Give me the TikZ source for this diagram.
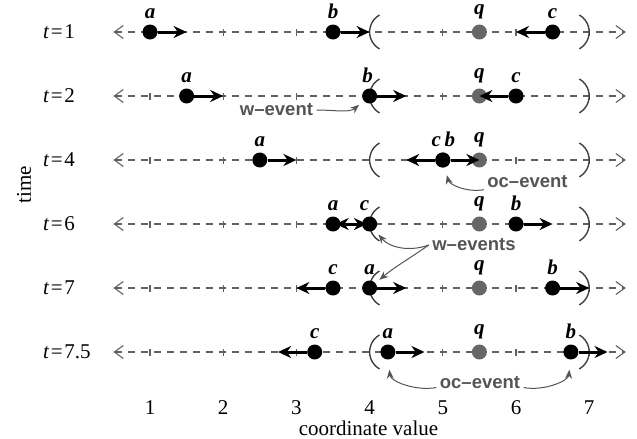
\documentclass[tikz,border=0pt]{standalone}
\usepackage{fontspec}
\setmainfont{Liberation Serif}
\newfontfamily\evfont{Liberation Sans}[Ligatures=TeX]
\usetikzlibrary{arrows.meta,positioning}
\definecolor{axisgray}{gray}{0.38}
\definecolor{qgray}{gray}{0.4}
\definecolor{evgray}{gray}{0.33}
\definecolor{pargray}{gray}{0.25}
\tikzset{
  mvaxis/.style={line width=1.1pt, draw=axisgray, dash pattern=on 7pt off 6pt,
    {Straight Barb[length=9pt,width=13pt]}-{Straight Barb[length=9pt,width=13pt]}},
  mvtick/.style={line width=1.1pt, draw=axisgray},
  mvparen/.style={line width=1.4pt, draw=pargray},
  mvpt/.style={circle, fill=black, inner sep=0pt, minimum size=15pt},
  mvquery/.style={circle, fill=qgray, inner sep=0pt, minimum size=15pt},
  mvvel/.style={line width=3pt, draw=black, -{Stealth[length=13pt,width=12pt]}},
  mvname/.style={inner sep=0pt, font=\fontsize{21}{25}\selectfont\bfseries\itshape},
  mvrow/.style={anchor=west, inner sep=0pt, font=\fontsize{21}{25}\selectfont},
  mvtext/.style={font=\fontsize{21}{25}\selectfont},
  mvevent/.style={text=evgray, font=\fontsize{18.5}{22}\evfont\bfseries},
  mvevarrow/.style={line width=1pt, draw=evgray, -{Stealth[length=9pt,width=7pt]}},
}
\begin{document}
\begin{tikzpicture}[x=73.2pt,y=64pt]
\useasboundingbox (-1.0492,0.5) rectangle (7.653,-6.359);

% axes with ticks and the brackets round q
\foreach \y in {0,-1,-2,-3,-4,-5} {
  \draw[mvaxis] (0.5,\y) -- (7.5,\y);
  \foreach \x in {1,...,7}
    \draw[mvtick] (\x,\y) ++(0,-3.5pt) -- ++(0,7pt);
  \draw[mvparen] (4,\y) ++(9.8pt,17pt) arc[start angle=120,end angle=240,radius=19.6pt];
  \draw[mvparen] (7,\y) ++(-9.8pt,17pt) arc[start angle=60,end angle=-60,radius=19.6pt];
}

% row labels
\node[mvrow] (t1) at (-0.462,0) {\textit{t}\kern1.5pt=\kern1.5pt1};
\node[mvrow] (t2) at (-0.462,-1) {\textit{t}\kern1.5pt=\kern1.5pt2};
\node[mvrow] (t4) at (-0.462,-2) {\textit{t}\kern1.5pt=\kern1.5pt4};
\node[mvrow] (t6) at (-0.462,-3) {\textit{t}\kern1.5pt=\kern1.5pt6};
\node[mvrow] (t7) at (-0.462,-4) {\textit{t}\kern1.5pt=\kern1.5pt7};
\node[mvrow] (t75) at (-0.462,-5) {\textit{t}\kern1.5pt=\kern1.5pt7.5};

% query points
\node[mvquery] (q1) at (5.5,0) {};
\node[mvquery] (q2) at (5.5,-1) {};
\node[mvquery] (q4) at (5.5,-2) {};
\node[mvquery] (q6) at (5.5,-3) {};
\node[mvquery] (q7) at (5.5,-4) {};
\node[mvquery] (q75) at (5.5,-5) {};

% moving points
\node[mvpt] (a1) at (1,0) {};
\node[mvpt] (b1) at (3.5,0) {};
\node[mvpt] (c1) at (6.5,0) {};
\node[mvpt] (a2) at (1.5,-1) {};
\node[mvpt] (b2) at (4,-1) {};
\node[mvpt] (c2) at (6,-1) {};
\node[mvpt] (a4) at (2.5,-2) {};
\node[mvpt] (b4) at (5,-2) {};
\node[mvpt] (c4) at (5,-2) {};
\node[mvpt] (a6) at (3.5,-3) {};
\node[mvpt] (c6) at (4,-3) {};
\node[mvpt] (b6) at (6,-3) {};
\node[mvpt] (c7) at (3.5,-4) {};
\node[mvpt] (a7) at (4,-4) {};
\node[mvpt] (b7) at (6.5,-4) {};
\node[mvpt] (c75) at (3.25,-5) {};
\node[mvpt] (a75) at (4.25,-5) {};
\node[mvpt] (b75) at (6.75,-5) {};

% velocities
\coordinate (a1v) at (1.5,0);
\coordinate (b1v) at (4,0);
\coordinate (c1v) at (6,0);
\coordinate (a2v) at (2,-1);
\coordinate (b2v) at (4.5,-1);
\coordinate (c2v) at (5.5,-1);
\coordinate (a4v) at (3,-2);
\coordinate (b4v) at (5.5,-2);
\coordinate (c4v) at (4.5,-2);
\coordinate (b6v) at (6.5,-3);
\coordinate (c7v) at (3,-4);
\coordinate (a7v) at (4.5,-4);
\coordinate (b7v) at (7,-4);
\coordinate (c75v) at (2.75,-5);
\coordinate (a75v) at (4.75,-5);
\coordinate (b75v) at (7.25,-5);
\draw[mvvel] (a1) -- (a1v);
\draw[mvvel] (b1) -- (b1v);
\draw[mvvel] (c1) -- (c1v);
\draw[mvvel] (a2) -- (a2v);
\draw[mvvel] (b2) -- (b2v);
\draw[mvvel] (c2) -- (c2v);
\draw[mvvel] (a4) -- (a4v);
\draw[mvvel] (b4) -- (b4v);
\draw[mvvel] (c4) -- (c4v);
\draw[mvvel, shorten >=-5pt] (a6) -- (c6);
\draw[mvvel, shorten >=-5pt] (c6) -- (a6);
\draw[mvvel] (b6) -- (b6v);
\draw[mvvel] (c7) -- (c7v);
\draw[mvvel] (a7) -- (a7v);
\draw[mvvel] (b7) -- (b7v);
\draw[mvvel] (c75) -- (c75v);
\draw[mvvel] (a75) -- (a75v);
\draw[mvvel] (b75) -- (b75v);

% point names
\node[above=5pt of a1, mvname] (la1) {a};
\node[above=5pt of b1, mvname] (lb1) {b};
\node[above=5pt of c1, mvname] (lc1) {c};
\node[above=5pt of q1, mvname] (lq1) {q};
\node[above=5pt of a2, mvname] (la2) {a};
\node[above=5pt of b2, mvname, xshift=-2pt] (lb2) {b};
\node[above=5pt of c2, mvname] (lc2) {c};
\node[above=5pt of q2, mvname] (lq2) {q};
\node[above=5pt of a4, mvname] (la4) {a};
\node[above=5pt of c4, mvname, xshift=-6.5pt] (lc4) {c};
\node[above=5pt of b4, mvname, xshift=7pt] (lb4) {b};
\node[above=5pt of q4, mvname] (lq4) {q};
\node[above=5pt of a6, mvname] (la6) {a};
\node[above=5pt of c6, mvname, xshift=-5pt] (lc6) {c};
\node[above=5pt of b6, mvname] (lb6) {b};
\node[above=5pt of q6, mvname] (lq6) {q};
\node[above=5pt of c7, mvname] (lc7) {c};
\node[above=5pt of a7, mvname] (la7) {a};
\node[above=5pt of b7, mvname] (lb7) {b};
\node[above=5pt of q7, mvname] (lq7) {q};
\node[above=5pt of c75, mvname] (lc75) {c};
\node[above=5pt of a75, mvname] (la75) {a};
\node[above=5pt of b75, mvname] (lb75) {b};
\node[above=5pt of q75, mvname] (lq75) {q};

% events
\node[mvevent] (ev2) at (2.728,-1.219) {w--event};
\draw[mvevarrow, shorten >=6pt] (ev2) to[out=0,in=220] (b2);
\node[mvevent] (ev4) at (6.157,-2.344) {oc--event};
\draw[mvevarrow, shorten >=8pt] (ev4.190) to[out=190,in=-75] (c4);
\node[mvevent] (ev6) at (5.426,-3.328) {w--events};
\draw[mvevarrow, shorten >=6pt] (ev6.west) to[out=200,in=-50] (c6);
\draw[mvevarrow, shorten >=5pt] (ev6.west) to[out=215,in=40] (a7);
\node[mvevent] (ev75) at (5.508,-5.484) {oc--event};
\draw[mvevarrow, shorten >=10pt] (ev75.186) to[out=190,in=-85] (a75);
\draw[mvevarrow, shorten >=10pt] (ev75.-6) to[out=-10,in=-95] (b75);

% axis labels
\foreach \x in {1,...,7}
  \node[mvtext] (tk\x) at (\x,-5.875) {\x};
\node[mvtext] (xlab) at (3.985,-6.19) {coordinate value};
\node[mvtext, rotate=90] (ylab) at (-0.721,-2.39) {time};
\end{tikzpicture}
\end{document}
